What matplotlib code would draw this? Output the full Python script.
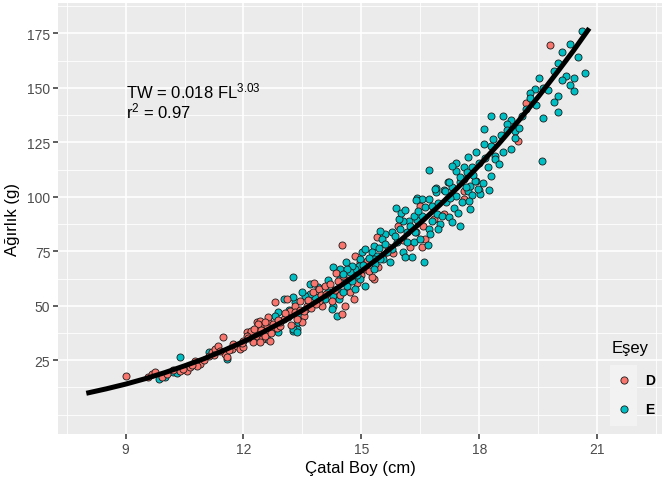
import matplotlib
matplotlib.use("Agg")
import matplotlib.pyplot as plt
from matplotlib.lines import Line2D
from matplotlib.patches import Rectangle

plt.rcParams['font.family'] = ['Liberation Sans', 'DejaVu Sans']
plt.rcParams['mathtext.fontset'] = 'custom'
plt.rcParams['mathtext.rm'] = 'Liberation Sans'
plt.rcParams['mathtext.default'] = 'regular'

# length (cm) / weight (g), sex D
d_len = [9.00, 9.58, 9.67, 9.75, 9.92, 10.05, 10.39, 10.56, 10.64, 10.77, 10.90, 10.81,
         11.11, 11.19, 11.28, 11.36, 11.49, 11.53, 11.58, 11.70, 11.74, 11.83, 11.91, 12.00,
         12.08, 12.17, 12.34, 12.42, 12.51, 12.59, 12.63, 12.76, 12.85, 12.93, 12.34, 12.47,
         12.25, 12.80, 13.02, 12.63, 12.55, 12.38, 12.34, 12.20, 12.08, 12.00, 12.42, 12.68,
         12.55, 12.93, 12.76, 13.53, 13.49, 13.36, 13.14, 13.10, 13.18, 13.31, 13.44, 13.61,
         14.00, 13.91, 13.78, 13.91, 14.08, 14.21, 14.54, 14.63, 14.59, 14.50, 14.80, 15.31,
         15.27, 15.09, 15.14, 14.97, 14.84, 17.60, 16.58, 16.62, 16.54, 15.39, 15.94, 16.50,
         14.50, 17.60, 18.99, 19.19, 19.80,
         10.20, 10.45, 10.70, 11.00, 11.25, 11.40, 11.62, 11.95, 12.12, 12.28, 12.45, 12.70,
         12.88, 13.05, 13.22, 13.30, 13.45, 13.55, 13.65, 13.72, 13.85, 13.97, 14.10, 14.25,
         14.33, 14.40, 14.45, 14.68, 14.72, 14.90, 15.00, 15.20, 15.42, 15.55, 15.68, 15.80,
         16.05, 16.25, 16.40, 16.85, 17.10, 14.35, 13.80]
d_wt = [17.8, 17.1, 18.6, 19.4, 17.1, 18.6, 20.1, 20.1, 21.7, 24.7, 23.2, 22.4,
        27.0, 28.6, 30.1, 31.6, 35.7, 27.8, 26.3, 30.1, 32.4, 31.6, 30.1, 30.9,
        37.8, 37.0, 42.3, 43.1, 41.6, 40.8, 43.1, 39.3, 40.0, 40.8, 36.2, 34.7,
        33.2, 51.5, 43.9, 44.6, 42.3, 41.6, 38.5, 38.6, 36.2, 33.9, 33.2, 33.9,
        36.2, 42.3, 41.6, 45.4, 42.3, 43.9, 44.6, 53.0, 47.7, 50.0, 52.3, 50.0,
        50.0, 52.3, 56.1, 57.6, 59.2, 59.9, 63.8, 59.9, 50.0, 46.3, 53.0, 62.2,
        63.0, 66.8, 70.6, 69.9, 72.9, 99.0, 86.7, 80.6, 76.8, 81.4, 86.4, 95.6,
        78.0, 102.6, 125.6, 143.0, 169.7,
        20.5, 21.0, 22.8, 25.2, 27.3, 29.0, 29.5, 33.0, 35.0, 39.5, 39.0, 37.5,
        43.5, 46.5, 41.0, 47.0, 48.0, 47.5, 52.5, 49.0, 51.0, 55.0, 55.5, 52.0,
        57.0, 61.5, 55.0, 62.0, 56.5, 60.5, 64.0, 66.0, 68.0, 73.5, 77.0, 74.0,
        80.0, 77.0, 84.0, 90.0, 92.0, 65.0, 60.5]

# sex E
e_len = [20.61, 20.31, 20.11, 20.01, 20.70, 20.21, 20.11, 20.40, 20.31, 20.41, 20.01, 19.91,
         20.01, 19.61, 19.60, 19.51, 19.41, 19.30, 19.30, 19.61, 19.08, 18.30, 18.61, 18.81,
         18.70, 18.70, 18.91, 18.90, 18.11, 18.11, 18.30, 18.61, 18.40, 18.40, 17.91, 18.21,
         18.30, 18.00, 17.81, 17.71, 17.61, 17.40, 17.40, 17.30, 16.71, 17.68, 17.60, 17.20,
         17.50, 17.92, 16.90, 16.90, 17.10, 17.30, 17.41, 17.71, 18.00, 18.02, 17.81, 16.41,
         16.54, 16.71,
         15.88, 16.38, 16.88, 17.13, 17.22, 17.51, 17.77, 17.89, 17.98, 17.77, 17.51, 17.00,
         16.92, 17.05, 17.22, 16.79, 16.71, 16.75, 16.60, 16.30, 16.07, 16.11, 16.16, 16.33,
         16.16, 16.37, 16.20, 16.41, 16.54, 16.33, 16.07, 15.99, 15.77, 15.60, 15.48, 15.52,
         15.90, 15.77, 15.65, 15.56, 15.73, 15.48, 15.31, 15.27, 15.39, 15.31, 15.35, 15.31,
         15.01, 14.97, 14.93, 14.84, 14.76, 14.71, 14.63, 14.54, 14.46, 14.29, 14.46, 14.46,
         14.63, 14.76, 14.97, 14.84, 15.09, 14.37, 14.29, 14.42, 14.54, 14.16, 14.08, 13.95,
         13.82, 13.70, 13.57, 13.49, 13.31, 14.29, 14.25, 14.37, 13.27, 13.02, 13.27, 13.44,
         13.36, 13.27, 13.40, 12.89, 12.80, 12.47, 12.59, 12.25,
         10.39, 10.00, 10.21, 11.11, 11.58, 12.89, 13.27, 13.36, 9.85, 10.30,
         15.10, 15.20, 15.45, 15.60, 15.85, 15.95, 16.00, 16.12, 16.25, 16.45, 16.48, 16.62,
         16.80, 16.95, 17.15, 17.25, 17.35, 17.55, 17.65, 17.85, 18.10, 18.15, 18.35, 18.50,
         18.55, 18.80, 19.00, 19.20, 19.45, 19.75, 19.90, 20.50, 15.05, 14.88, 14.60, 14.15,
         13.90, 13.60, 13.15, 13.70, 16.70, 16.95, 17.30, 17.45, 18.25, 17.75]
e_wt = [176.0, 170.0, 166.4, 161.3, 156.7, 155.5, 153.7, 154.4, 151.5, 148.5, 146.3, 143.7,
        138.8, 136.0, 116.3, 154.4, 149.5, 147.5, 145.2, 150.2, 137.3, 137.3, 137.3, 135.4,
        133.3, 130.8, 130.4, 126.9, 131.0, 124.4, 123.5, 120.4, 118.6, 117.4, 120.4, 113.8,
        109.7, 115.4, 113.5, 118.1, 113.5, 115.5, 112.0, 114.3, 112.3, 111.3, 108.2, 106.7,
        106.7, 107.1, 103.9, 102.3, 103.3, 104.4, 100.5, 102.8, 103.1, 101.3, 100.8, 99.5,
        99.0, 99.2,
        94.7, 98.7, 103.6, 102.8, 106.7, 109.0, 105.1, 107.4, 103.6, 94.4, 86.4, 87.5,
        92.0, 91.3, 90.6, 89.0, 85.2, 82.9, 69.9, 72.5, 74.5, 72.5, 79.1, 79.1,
        83.7, 83.7, 89.0, 89.5, 91.3, 91.3, 89.0, 85.2, 83.7, 82.9, 84.4, 80.6,
        79.1, 76.0, 74.5, 71.4, 69.9, 71.4, 77.5, 74.5, 72.9, 71.4, 69.1, 66.8,
        74.5, 71.4, 68.4, 66.8, 68.4, 65.3, 66.8, 64.5, 66.8, 67.6, 63.8, 60.7,
        59.2, 61.5, 62.2, 57.6, 59.2, 57.6, 54.6, 53.0, 56.1, 56.1, 53.0, 54.6,
        53.8, 55.4, 54.6, 56.1, 51.5, 50.0, 48.5, 45.4, 63.0, 53.0, 53.8, 45.4,
        39.3, 38.5, 42.3, 46.9, 45.4, 35.5, 34.7, 36.2,
        26.3, 17.1, 19.4, 28.6, 25.5, 37.8, 39.3, 37.8, 16.5, 19.0,
        76.0, 72.0, 76.5, 78.5, 82.0, 90.0, 92.5, 94.0, 86.5, 93.5, 80.5, 95.5,
        96.0, 97.0, 97.5, 99.5, 95.0, 97.5, 104.5, 110.0, 106.5, 118.0, 126.5, 115.0,
        128.5, 122.0, 131.5, 140.5, 142.0, 149.0, 158.0, 164.0, 68.5, 64.0, 70.0, 62.0,
        58.5, 48.5, 48.0, 60.0, 78.0, 85.0, 88.5, 92.5, 103.0, 98.0]

# fitted curve TW = 0.018 FL^3.03, read at half-cm steps
fit_len = [8.0, 8.5, 9.0, 9.5, 10.0, 10.5, 11.0, 11.5, 12.0, 12.5, 13.0, 13.5, 14.0,
           14.5, 15.0, 15.5, 16.0, 16.5, 17.0, 17.5, 18.0, 18.5, 19.0, 19.5, 20.0, 20.4, 20.8]
fit_wt = [9.8, 11.8, 14.0, 16.5, 19.3, 22.4, 25.7, 29.5, 33.5, 37.9, 42.7, 47.9, 53.5,
          59.5, 65.9, 72.8, 80.1, 88.0, 96.3, 105.1, 114.5, 124.4, 134.9, 145.9, 157.6,
          167.2, 177.4]

red = '#F8766D'
teal = '#00BFC4'

fig = plt.figure(figsize=(6.62, 4.85), dpi=100)
ax = fig.add_axes([58/662, 50/485, 604/662, 431/485])
ax.set_facecolor('#EBEBEB')
for s in ax.spines.values():
    s.set_visible(False)

# small E fish go under the D points, larger E fish on top (as in the original overplotting)
e_small = [i for i, v in enumerate(e_len) if v < 14.5]
e_big = [i for i, v in enumerate(e_len) if v >= 14.5]
pt = dict(s=26, edgecolors='#1a1a1a', linewidths=0.6)
ax.scatter([e_len[i] for i in e_small], [e_wt[i] for i in e_small], c=teal, zorder=2.5, **pt)
ax.scatter(d_len, d_wt, c=red, zorder=3, **pt)
ax.scatter([e_len[i] for i in e_big], [e_wt[i] for i in e_big], c=teal, zorder=3.5, **pt)
ax.plot(fit_len, fit_wt, color='black', lw=3.6, solid_capstyle='butt', zorder=4)

ax.set_xlim(7.28, 22.65)
ax.set_ylim(-8.9, 189)
ax.set_xticks([9, 12, 15, 18, 21])
ax.set_yticks([25, 50, 75, 100, 125, 150, 175])
ax.set_xticks([7.5, 10.5, 13.5, 16.5, 19.5, 22.5], minor=True)
ax.set_yticks([0, 12.5, 37.5, 62.5, 87.5, 112.5, 137.5, 162.5, 187.5], minor=True)
ax.grid(which='major', color='white', lw=1.2)
ax.grid(which='minor', color='white', lw=0.6)
ax.set_axisbelow(True)
ax.tick_params(which='major', length=3.5, width=1.1, color='#333333',
               labelcolor='#4D4D4D', labelsize=10, pad=2)
ax.tick_params(which='minor', length=0)

ax.set_xlabel('Çatal Boy (cm)', fontsize=12, labelpad=3)
ax.set_ylabel('Ağırlık (g)', fontsize=12, labelpad=5)

ax.text(9.0, 149, 'TW = 0.018 FL$^{3.03}$', fontsize=12, va='center', ha='left')
ax.text(9.0, 139.5, 'r$^{2}$ = 0.97', fontsize=12, va='center', ha='left')

# legend drawn inside the panel, bottom right
fig.text(612/662, 1 - 348/485, 'Eşey', fontsize=12, va='center', ha='left')
fig.add_artist(Rectangle((610/662, 1 - 427/485), 27/662, 61/485,
                         transform=fig.transFigure, facecolor='#F2F2F2', edgecolor='none'))
for py, col, lab in [(381, red, 'D'), (410, teal, 'E')]:
    fig.add_artist(Line2D([624/662], [1 - py/485], transform=fig.transFigure, marker='o',
                          markersize=5.2, markerfacecolor=col, markeredgecolor='#1a1a1a',
                          markeredgewidth=0.6, linestyle='none'))
    fig.text(645/662, 1 - py/485, lab, fontsize=10, fontweight='bold', va='center', ha='left')

fig.savefig('out.png', dpi=100)
